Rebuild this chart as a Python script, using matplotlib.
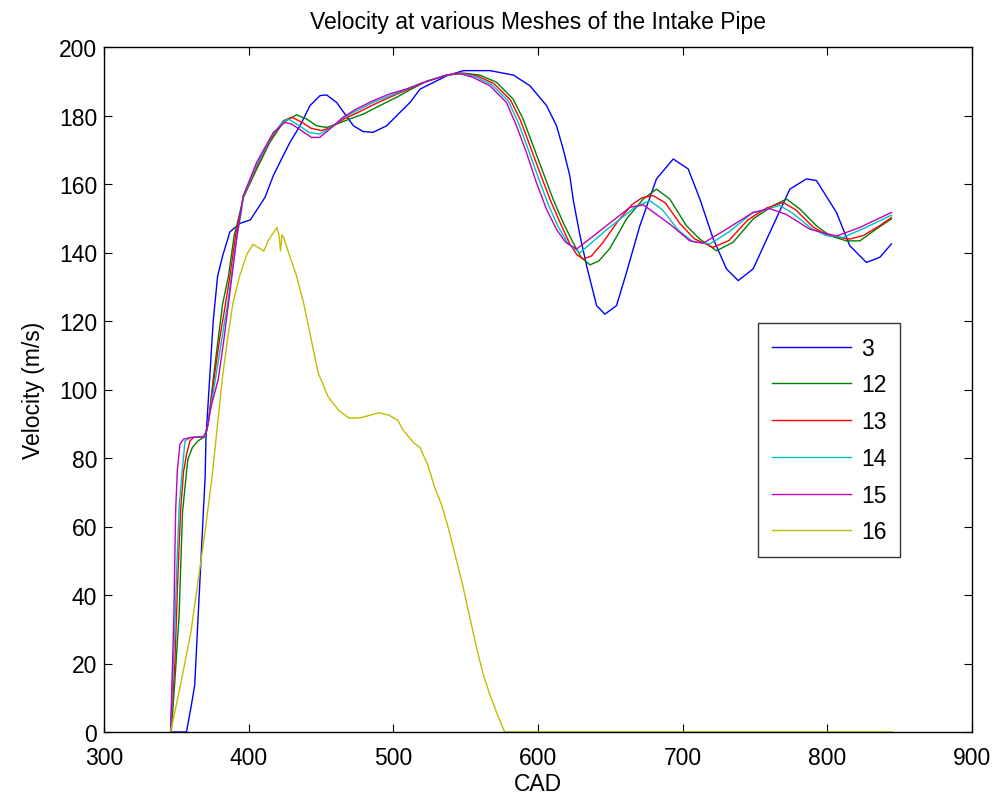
import matplotlib
matplotlib.use("Agg")
import matplotlib.pyplot as plt

plt.rcParams['font.family'] = ['Liberation Sans', 'DejaVu Sans']

# mesh 3
x_m3 = [346, 357, 360.3, 362.7, 365.1, 367.5, 369.9, 370.5, 373, 375.5, 378.5, 382, 384.5, 387,
        393.9, 401.1, 411.3, 417, 423.9, 428.6, 435.5, 442.4, 449.3, 453.9, 460.8, 466.6, 472.4,
        479.2, 486.1, 495.4, 504.6, 511.5, 518.5, 536.9, 548.4, 566.8, 583, 594.4, 605.9, 612.8,
        617.4, 622, 624.5, 629, 633.6, 640.5, 646.3, 654.3, 661.2, 670.4, 681.9, 693.5, 703.8,
        711.9, 721.1, 730.3, 738.4, 748.7, 760.3, 774.1, 785.6, 792.5, 806.3, 815.5, 827, 836.3,
        844.3]
v_m3 = [0, 0, 7.6, 13.7, 34, 54.3, 74.5, 86, 103, 120, 133, 139, 142.5, 146,
        148.5, 149.5, 156.1, 162.4, 168.3, 172.2, 177, 182.9, 185.8, 186, 183.8, 180.4, 177,
        175.3, 175.1, 177, 180.9, 183.8, 187.7, 191.6, 193.1, 193.1, 191.8, 188.7, 182.9, 177,
        170.2, 162.4, 155, 145, 136.1, 124.5, 122, 124.5, 134.2, 147.8, 161.5, 167.3, 164.4,
        155.6, 144, 135.2, 131.8, 135.2, 145.9, 158.5, 161.5, 161, 151.7, 142, 137.1, 138.6,
        142.5]

# mesh 12
x_m12 = [346.5, 349, 351.9, 354.3, 357.9, 361, 365, 370, 372, 375.5, 379, 382, 386, 390, 393,
         396.3, 405.5, 414.7, 423.9, 433.1, 440, 446.9, 453.8, 460.8, 470, 479.2, 490.7, 502.2,
         511.5, 523, 537, 550, 559.8, 571.3, 582.8, 589.7, 596.6, 603.5, 610.4, 617.3, 624.2,
         630, 635.9, 642, 649.7, 661.2, 672.7, 681.9, 691.1, 702.6, 711.9, 723.4, 734.9, 748.7,
         762.6, 771.8, 781, 792.5, 801.7, 813.3, 822.5, 834, 844.3]
v_m12 = [0, 15, 34, 64.3, 79.5, 83, 85, 86.3, 90, 103, 115, 125, 133, 145, 150,
         156, 164.3, 172.2, 178, 180.2, 179, 177, 176.5, 177.5, 179, 180.4, 182.9, 185.3,
         187.5, 190, 191.8, 192.3, 191.8, 189.7, 184.8, 179, 171.2, 163.4, 155.6, 148.8, 142.9,
         138.5, 136.4, 137.5, 141.2, 149.8, 155.6, 158.5, 155.6, 147.8, 143.9, 140.5, 143, 149.8,
         153.7, 155.6, 152.7, 147.8, 144.9, 143.4, 143.4, 146.9, 149.8]

# mesh 13
x_m13 = [346, 349, 351, 353, 355, 357, 359.4, 362, 369.5, 372, 376, 380, 384, 387, 391, 394,
         396.3, 405.5, 415, 424, 429.7, 437, 443, 450.3, 457, 466, 476, 488, 500, 510, 523, 537,
         548, 558, 569.5, 581, 588, 595, 602, 608.8, 615.5, 622, 627, 631.3, 637, 645, 655, 665,
         672, 679.6, 688, 698, 708, 721.1, 732, 745, 758, 769.5, 778, 790, 800, 815.5, 825, 835,
         844.3]
v_m13 = [0, 20, 45, 65, 76, 81, 85, 86, 86.3, 90, 103, 115, 125, 133, 145, 151,
         156.2, 165, 173, 178.5, 179.5, 178, 176.3, 175.6, 176.5, 179, 181, 183.5, 185.8, 187.6, 190, 191.8,
         192.4, 191.6, 189.3, 184.5, 178.5, 170.5, 162.5, 155, 148.5, 142.5, 139.3, 138.1, 139, 143, 149, 154,
         156, 156.6, 154.5, 148.5, 144, 141.5, 143.5, 149.5, 153, 154.6, 152.5, 147.5, 145, 143.9, 145, 147.5,
         150.2]

# mesh 14
x_m14 = [346, 348.5, 350.5, 352, 353.7, 356, 360, 369.5, 371.5, 377, 381.5, 385.5, 388, 392, 395,
         396.3, 405.5, 416, 424, 427.4, 435, 442, 449, 456, 465.5, 475, 487, 499, 509.5, 521, 537,
         546, 556.5, 568, 579.5, 586.5, 593.5, 600.5, 607.3, 614, 621, 629, 647, 668, 677.4, 686,
         697, 707, 718.8, 732, 748, 767.1, 776, 789, 799, 810.9, 825, 844.3]
v_m14 = [0, 25, 50, 66, 74.6, 85, 86, 86.3, 89, 103, 115, 125, 133, 145, 152,
         156.4, 165.5, 174, 178.3, 179, 177, 175, 174.6, 176.2, 179.3, 181.5, 184, 186, 187.7, 189.7, 191.8,
         192.4, 191.4, 189, 184.2, 177.8, 169.8, 161.5, 153.8, 147.5, 142.5, 139.9, 146.5, 153.5, 155.1, 152.5,
         146.5, 143.2, 142.5, 146, 151.5, 153.7, 151.5, 147, 145, 144.4, 147, 150.9]

# mesh 15
x_m15 = [346, 348.3, 349.5, 350.7, 352.5, 355, 360, 368.7, 371, 374, 379, 383, 388.2, 392,
         396.3, 405.5, 417, 425, 429.6, 436.5, 443.4, 449.1, 456, 465.2, 474.4, 485.9, 497.4,
         508.9, 520, 536.8, 545, 555.2, 566.7, 578.2, 585.1, 592, 598.9, 605.8, 612.7, 619,
         626.7, 663.6, 672.8, 691.1, 704.9, 714.1, 730.2, 748.7, 760.2, 771.7, 787.9, 806.3,
         822.4, 844.3]
v_m15 = [0, 34, 64.3, 76.5, 84, 85.5, 86, 86.2, 88, 95, 103, 115, 132.3, 145,
         156.6, 166.3, 175, 178, 177.5, 175.6, 173.6, 173.6, 176, 179.5, 181.9, 184.3, 186.3,
         187.7, 189.5, 191.8, 192.4, 191.1, 188.7, 183.8, 177, 169.2, 160.4, 152.7, 146.8, 143,
         141, 153.2, 153.9, 148.3, 143.4, 142.7, 146.8, 151.7, 152.8, 151.1, 146.8, 144.8,
         147.3, 151.7]

# mesh 16
x_m16 = [346, 353, 360, 365, 370, 374.7, 378.3, 382, 385.5, 389.1, 393.9, 398.7, 403, 406.5,
         410.5, 413.5, 419.5, 421, 422, 423, 424.5, 428, 433, 438, 443, 448, 455, 462.5, 469.5,
         477.9, 489.9, 497, 503, 507, 510, 514, 518.5, 523.8, 528.6, 533.4, 538.2, 543, 547.8,
         552.6, 557.4, 562.2, 567, 572, 577, 845]
v_m16 = [0, 14, 29, 44, 59, 74.5, 89, 104, 115, 125.2, 133.3, 139.4, 142.4, 141.5,
         140.4, 143.5, 147.3, 145, 140.5, 145.2, 144, 139.4, 133.3, 125.2, 115.1, 104.9, 97.8, 93.8, 91.6,
         91.8, 93.2, 92.5, 91, 88, 86.5, 84.5, 83, 78, 71.4, 66.3, 59.3, 51.2, 43.1,
         34, 24.8, 16.7, 10.6, 5, 0, 0]

series = [("3", x_m3, v_m3, (0, 0, 1)),
          ("12", x_m12, v_m12, (0, 0.5, 0)),
          ("13", x_m13, v_m13, (1, 0, 0)),
          ("14", x_m14, v_m14, (0, 0.75, 0.75)),
          ("15", x_m15, v_m15, (0.75, 0, 0.75)),
          ("16", x_m16, v_m16, (0.75, 0.75, 0))]

fig = plt.figure(figsize=(9.96, 8.03), dpi=100)
ax = fig.add_axes([104 / 996, 70 / 803, 868 / 996, 685 / 803])

for name, xs, ys, col in series:
    ax.plot(xs, ys, color=col, linewidth=1.0, label=name)

ax.set_xlim(300, 900)
ax.set_ylim(0, 200)
ax.set_xticks(range(300, 901, 100))
ax.set_yticks(range(0, 201, 20))
ax.tick_params(direction='in', length=6, width=0.8, top=True, right=True,
               labelsize=16.5)
ax.tick_params(axis='x', pad=10)
ax.tick_params(axis='y', pad=5)
for s in ax.spines.values():
    s.set_linewidth(1.0)

ax.set_title("Velocity at various Meshes of the Intake Pipe", fontsize=16.5, pad=14)
ax.set_xlabel("CAD", fontsize=16.5, labelpad=2)
ax.set_ylabel("Velocity (m/s)", fontsize=16.5, labelpad=10)

leg = ax.legend(loc='upper left', bbox_to_anchor=(758 / 996, 479 / 803),
                bbox_transform=fig.transFigure, fontsize=16.5, frameon=True,
                fancybox=False, borderaxespad=0, borderpad=0.6, handlelength=3.45,
                handletextpad=0.45, labelspacing=0.6)
leg.get_frame().set_edgecolor('black')
leg.get_frame().set_linewidth(1.0)

fig.savefig("out.png", dpi=100)
